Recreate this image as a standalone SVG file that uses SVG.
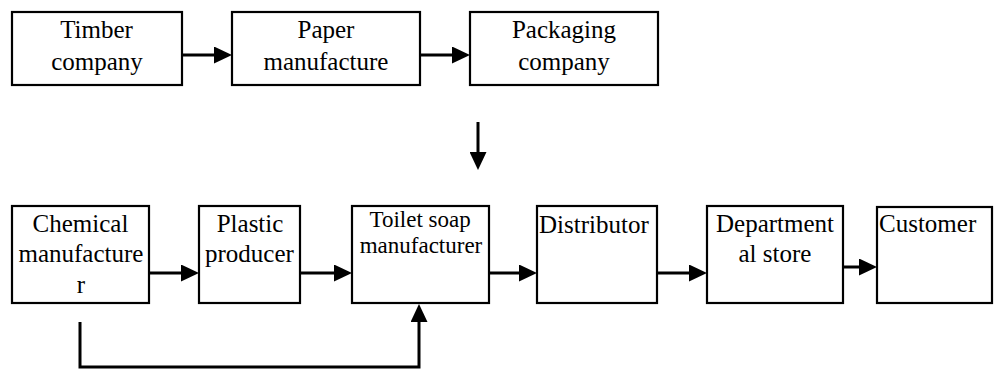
<svg xmlns="http://www.w3.org/2000/svg" width="995" height="369" viewBox="0 0 995 369">
<defs>
<marker id="ah" markerUnits="userSpaceOnUse" markerWidth="18" markerHeight="17" viewBox="0 0 18 17" refX="9" refY="8.5" orient="auto">
<path d="M0,0 L18,8.5 L0,17 z" fill="#000"/>
</marker>
</defs>
<rect width="995" height="369" fill="#fff"/>
<g font-family="Times New Roman, Liberation Serif, serif" font-size="25" fill="#000">
<g id="timber"><rect x="12" y="12" width="170" height="73" fill="#fff" stroke="#000" stroke-width="2.2"/><text x="60.2" y="38">Timber</text><text x="51.2" y="70">company</text></g>
<g id="paper"><rect x="232" y="12" width="188" height="73" fill="#fff" stroke="#000" stroke-width="2.2"/><text x="297.5" y="38">Paper</text><text x="263.5" y="70">manufacture</text></g>
<g id="packaging"><rect x="470" y="12" width="188" height="73" fill="#fff" stroke="#000" stroke-width="2.2"/><text x="511.9" y="38">Packaging</text><text x="518.2" y="70">company</text></g>
<g id="chemical"><rect x="12" y="206" width="137" height="97" fill="#fff" stroke="#000" stroke-width="2.2"/><text x="32.6" y="232">Chemical</text><text x="18.5" y="262">manufacture</text><text x="76.8" y="293">r</text></g>
<g id="plastic"><rect x="199" y="206" width="101" height="97" fill="#fff" stroke="#000" stroke-width="2.2"/><text x="216.7" y="232">Plastic</text><text x="205" y="262">producer</text></g>
<g id="soap" font-size="23"><rect x="352" y="206" width="137" height="97" fill="#fff" stroke="#000" stroke-width="2.2"/><text x="369.5" y="227">Toilet soap</text><text x="359.7" y="253">manufacturer</text></g>
<g id="distributor"><rect x="537" y="206" width="120" height="97" fill="#fff" stroke="#000" stroke-width="2.2"/><text x="539" y="233">Distributor</text></g>
<g id="department"><rect x="707" y="206" width="136" height="97" fill="#fff" stroke="#000" stroke-width="2.2"/><text x="716" y="232">Department</text><text x="738.5" y="262">al store</text></g>
<g id="customer"><rect x="877" y="207" width="115" height="96" fill="#fff" stroke="#000" stroke-width="2.2"/><text x="879" y="232">Customer</text></g>
</g>
<g id="connectors" fill="none" stroke="#000" stroke-width="3">
<line x1="182" y1="55" x2="223" y2="55" marker-end="url(#ah)"/>
<line x1="420" y1="55" x2="461" y2="55" marker-end="url(#ah)"/>
<line x1="478" y1="122" x2="478" y2="161" marker-end="url(#ah)"/>
<line x1="149" y1="273" x2="190" y2="273" marker-end="url(#ah)"/>
<line x1="300" y1="273" x2="343" y2="273" marker-end="url(#ah)"/>
<line x1="489" y1="273" x2="528" y2="273" marker-end="url(#ah)"/>
<line x1="657" y1="273" x2="698" y2="273" marker-end="url(#ah)"/>
<line x1="843" y1="267" x2="868" y2="267" marker-end="url(#ah)"/>
<polyline points="80,322 80,367 419,367 419,313" marker-end="url(#ah)"/>
</g>
</svg>
